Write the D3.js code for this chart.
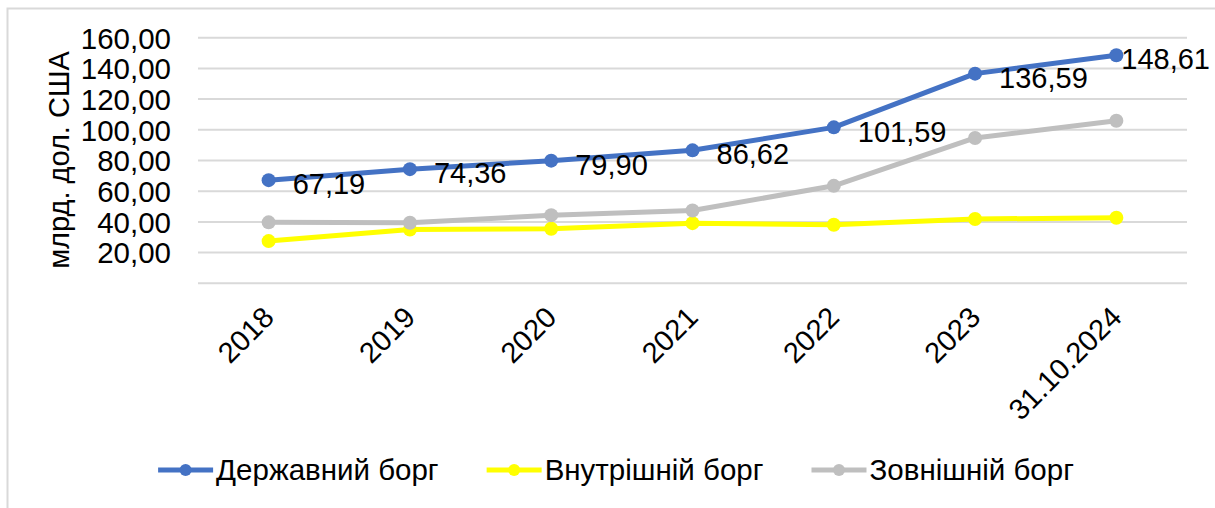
<!DOCTYPE html>
<html><head><meta charset="utf-8">
<script src="https://cdn.jsdelivr.net/npm/d3@7"></script>
<style>body{margin:0;background:#fff;} svg{display:block;font-family:"Liberation Sans",Arial,sans-serif;}</style>
</head><body>
<svg id="c" width="1215" height="508"></svg>
<script>
const categories = ["2018","2019","2020","2021","2022","2023","31.10.2024"];
const stateDebt = [67.19, 74.36, 79.90, 86.62, 101.59, 136.59, 148.61];
const domesticDebt = [27.5, 35.0, 35.5, 39.2, 38.1, 41.9, 42.7];
const externalDebt = [39.7, 39.4, 44.4, 47.4, 63.5, 94.7, 105.9];
const yTicks = [0, 20, 40, 60, 80, 100, 120, 140, 160];
const seriesNames = ["Державний борг", "Внутрішній борг", "Зовнішній борг"];
const yTitle = "млрд. дол. США";

const colors = ["#4472C4", "#FFFF00", "#BFBFBF"];
const series = [stateDebt, domesticDebt, externalDebt];

const svg = d3.select("#c");
const fmt = v => v.toFixed(2).replace(".", ",");
const FF = "Liberation Sans, Arial, sans-serif";

// outer border
svg.append("path").attr("d","M7.5,508 V8.5 H1215").attr("fill","none").attr("stroke","#D9D9D9").attr("stroke-width",2);

const x = d3.scalePoint().domain(categories).range([198, 1187]).padding(0.5);
const y = d3.scaleLinear().domain([0, 160]).range([283.3, 37.7]);

// gridlines
svg.append("g").selectAll("line").data(yTicks).join("line")
  .attr("x1",198).attr("x2",1187)
  .attr("y1",d=>y(d)).attr("y2",d=>y(d))
  .attr("stroke","#D9D9D9").attr("stroke-width",2);

// y axis labels
const yAxis = d3.axisLeft(y).tickValues(yTicks.filter(d=>d>0)).tickSize(0).tickPadding(0).tickFormat(fmt);
const yg = svg.append("g").attr("transform","translate(171,0)").call(yAxis);
yg.select(".domain").remove();
yg.selectAll("text").attr("font-size",29.5).attr("fill","#000").attr("font-family",FF).attr("dy","0.35em");

// y title
svg.append("text").attr("transform","translate(69,160) rotate(-90)")
  .attr("text-anchor","middle").attr("font-size",29).attr("fill","#000").text(yTitle);

// x axis labels
const xAxis = d3.axisBottom(x).tickSize(0).tickPadding(0);
const xg = svg.append("g").attr("transform","translate(-15,312)").call(xAxis);
xg.select(".domain").remove();
xg.selectAll("text").attr("font-size",29).attr("fill","#000").attr("font-family",FF)
  .attr("text-anchor","end").attr("y",0)
  .attr("transform","rotate(-45)")
  .attr("dx","0.35em").attr("dy","0.7em");

// lines
const line = d3.line().x((d,i)=>x(categories[i])).y(d=>y(d));
series.forEach((s,k)=>{
  const g = svg.append("g");
  g.append("path").datum(s).attr("d",line).attr("fill","none").attr("stroke",colors[k]).attr("stroke-width",5).attr("stroke-linejoin","round");
  g.selectAll("circle").data(s).join("circle").attr("cx",(d,i)=>x(categories[i])).attr("cy",d=>y(d)).attr("r",7).attr("fill",colors[k]);
});

// data labels for state debt
svg.append("g").selectAll("text").data(stateDebt).join("text")
  .attr("font-size",29).attr("fill","#000")
  .attr("dy","0.35em")
  .attr("y",d=>y(d)+4)
  .text(fmt)
  .each(function(d,i){
    const w = this.getComputedTextLength();
    const px = x(categories[i]) + 24;
    d3.select(this).attr("x", Math.min(px, 1210 - w));
  });

// legend
const lg = svg.append("g");
let items = [];
seriesNames.forEach((n,k)=>{
  const g = lg.append("g");
  g.append("line").attr("x1",0).attr("x2",55).attr("y1",0).attr("y2",0).attr("stroke",colors[k]).attr("stroke-width",5);
  g.append("circle").attr("cx",27.5).attr("cy",0).attr("r",6).attr("fill",colors[k]);
  const t = g.append("text").attr("x",58).attr("dy","0.35em").attr("font-size",29.5).attr("fill","#000").text(n);
  items.push({g, w: 58 + t.node().getComputedTextLength()});
});
const gap = 48;
const total = d3.sum(items, d=>d.w) + gap*(items.length-1);
let cx = 616 - total/2;
items.forEach(it=>{ it.g.attr("transform",`translate(${cx},470)`); cx += it.w + gap; });
</script>
</body></html>
